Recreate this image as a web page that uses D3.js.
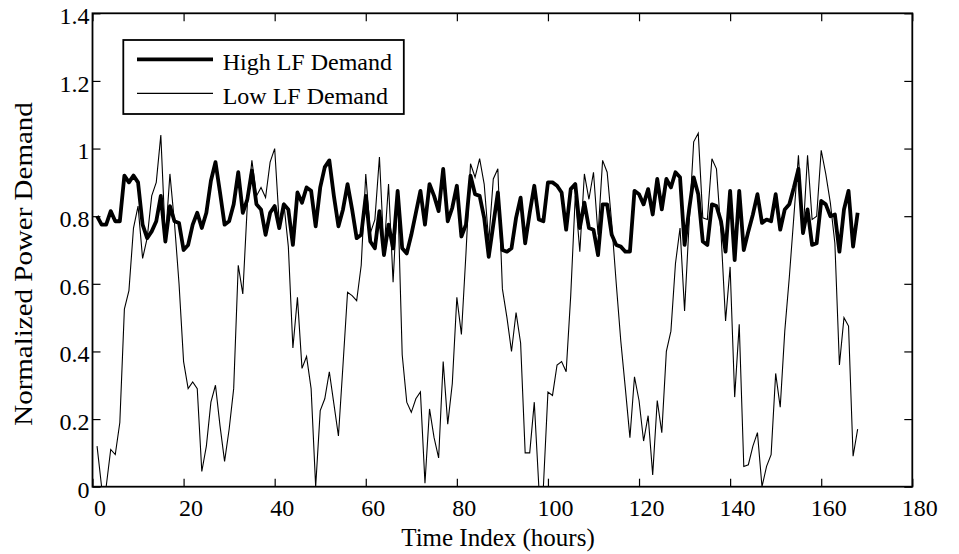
<!DOCTYPE html>
<html>
<head>
<meta charset="utf-8">
<script src="https://cdn.jsdelivr.net/npm/d3@7"></script>
<style>
  body { margin: 0; background: #fff; }
  svg text { font-family: "Liberation Serif", "Times New Roman", serif; fill: #000; }
</style>
</head>
<body>
<svg id="chart" width="959" height="554"></svg>
<script>
'use strict';

// hourly demand, hours 1..168
var hours = d3.range(1, 169)

var highLF = [
  0.80, 0.775, 0.775, 0.815, 0.785, 0.785, 0.92, 0.90, 0.92, 0.90,
  0.775, 0.735, 0.755, 0.785, 0.86, 0.725, 0.83, 0.785, 0.78, 0.70,
  0.715, 0.775, 0.81, 0.765, 0.81, 0.905, 0.96, 0.87, 0.775, 0.785,
  0.835, 0.93, 0.81, 0.85, 0.935, 0.835, 0.82, 0.745, 0.81, 0.83,
  0.765, 0.835, 0.82, 0.715, 0.87, 0.84, 0.885, 0.875, 0.77, 0.885,
  0.945, 0.965, 0.86, 0.77, 0.82, 0.895, 0.82, 0.735, 0.745, 0.86,
  0.725, 0.705, 0.815, 0.685, 0.775, 0.705, 0.875, 0.705, 0.69, 0.745,
  0.81, 0.875, 0.775, 0.895, 0.86, 0.815, 0.94, 0.785, 0.825, 0.89,
  0.74, 0.775, 0.92, 0.865, 0.86, 0.795, 0.68, 0.775, 0.87, 0.70,
  0.695, 0.705, 0.795, 0.855, 0.72, 0.81, 0.89, 0.79, 0.785, 0.90,
  0.90, 0.89, 0.87, 0.76, 0.88, 0.895, 0.765, 0.84, 0.765, 0.76,
  0.685, 0.835, 0.835, 0.745, 0.715, 0.71, 0.695, 0.695, 0.875, 0.865,
  0.835, 0.88, 0.805, 0.91, 0.82, 0.91, 0.885, 0.93, 0.915, 0.715,
  0.82, 0.915, 0.865, 0.725, 0.715, 0.835, 0.83, 0.785, 0.695, 0.875,
  0.67, 0.875, 0.70, 0.755, 0.805, 0.865, 0.78, 0.79, 0.785, 0.865,
  0.76, 0.82, 0.835, 0.885, 0.94, 0.75, 0.82, 0.715, 0.72, 0.845,
  0.835, 0.80, 0.805, 0.695, 0.82, 0.875, 0.71, 0.81
]

var lowLF = [
  0.12, 0.00, 0.00, 0.11, 0.095, 0.19, 0.525, 0.58, 0.765, 0.83,
  0.675, 0.735, 0.86, 0.90, 1.04, 0.73, 0.925, 0.78, 0.60, 0.37,
  0.29, 0.31, 0.29, 0.045, 0.12, 0.25, 0.30, 0.18, 0.075, 0.17,
  0.29, 0.655, 0.57, 0.835, 0.965, 0.86, 0.885, 0.855, 0.96, 1.00,
  0.78, 0.84, 0.71, 0.41, 0.56, 0.35, 0.385, 0.29, 0.00, 0.225,
  0.26, 0.34, 0.245, 0.15, 0.36, 0.575, 0.565, 0.55, 0.655, 0.925,
  0.75, 0.79, 0.975, 0.695, 0.895, 0.605, 0.87, 0.39, 0.25, 0.22,
  0.26, 0.28, 0.01, 0.23, 0.145, 0.085, 0.37, 0.185, 0.305, 0.56,
  0.45, 0.69, 0.955, 0.915, 0.97, 0.895, 0.725, 0.91, 0.94, 0.585,
  0.50, 0.40, 0.515, 0.425, 0.10, 0.10, 0.25, 0.00, 0.00, 0.28,
  0.27, 0.36, 0.37, 0.34, 0.565, 0.86, 0.695, 0.925, 0.85, 0.93,
  0.745, 0.965, 0.93, 0.78, 0.60, 0.43, 0.29, 0.145, 0.325, 0.255,
  0.135, 0.21, 0.035, 0.255, 0.16, 0.40, 0.46, 0.66, 0.765, 0.52,
  0.78, 1.02, 1.045, 0.795, 0.79, 0.97, 0.94, 0.75, 0.49, 0.65,
  0.265, 0.48, 0.06, 0.065, 0.12, 0.16, 0.00, 0.06, 0.095, 0.335,
  0.235, 0.46, 0.62, 0.80, 0.98, 0.745, 0.98, 0.79, 0.80, 0.995,
  0.925, 0.84, 0.72, 0.36, 0.50, 0.475, 0.09, 0.17
]

var xTicks = [0, 20, 40, 60, 80, 100, 120, 140, 160, 180]
,   yTicks = [0, 0.2, 0.4, 0.6, 0.8, 1, 1.2, 1.4]
,   yTickLabels = ['0', '0.2', '0.4', '0.6', '0.8', '1', '1.2', '1.4']
,   seriesNames = ['High LF Demand', 'Low LF Demand']

var plot = { left: 92.5, right: 912.3, top: 13.3, bottom: 486.7 }

var svg = d3.select('#chart')

var x = d3.scaleLinear().domain([0, 180]).range([plot.left, plot.right])
,   y = d3.scaleLinear().domain([0, 1.4]).range([plot.bottom, plot.top])

svg.append('defs').append('clipPath')
    .attr('id', 'plotclip')
  .append('rect')
    .attr('x', plot.left)
    .attr('y', plot.top)
    .attr('width', plot.right - plot.left)
    .attr('height', plot.bottom - plot.top)

// axes, ticks pointing inward like matlab
var bottomAxis = svg.append('g')
  .attr('transform', 'translate(0,' + plot.bottom + ')')
  .call(d3.axisBottom(x).tickValues(xTicks).tickSizeInner(-8).tickSizeOuter(0).tickPadding(12))

bottomAxis.selectAll('text')
  .attr('dx', 7)
  .style('font-size', '24px')

var leftAxis = svg.append('g')
  .attr('transform', 'translate(' + plot.left + ',0)')
  .call(d3.axisLeft(y).tickValues(yTicks).tickSizeInner(-8).tickSizeOuter(0).tickPadding(3)
    .tickFormat((d, i) => yTickLabels[i]))

leftAxis.selectAll('text')
  .attr('dy', '0.43em')
  .style('font-size', '24px')

svg.append('g')
  .attr('transform', 'translate(0,' + plot.top + ')')
  .call(d3.axisTop(x).tickValues(xTicks).tickSizeInner(-8).tickSizeOuter(0).tickFormat(''))

svg.append('g')
  .attr('transform', 'translate(' + plot.right + ',0)')
  .call(d3.axisRight(y).tickValues(yTicks).tickSizeInner(-8).tickSizeOuter(0).tickFormat(''))

svg.selectAll('.domain').remove()
svg.selectAll('.tick line')
  .attr('stroke', '#000')
  .attr('stroke-width', 1.2)

// series
var line = d3.line()
  .x((d, i) => x(hours[i]))
  .y((d) => y(d))

var lines = svg.append('g')
  .attr('clip-path', 'url(#plotclip)')

lines.append('path')
  .datum(lowLF)
  .attr('fill', 'none')
  .attr('stroke', '#000')
  .attr('stroke-width', 1.1)
  .attr('stroke-linejoin', 'miter')
  .attr('d', line)

lines.append('path')
  .datum(highLF)
  .attr('fill', 'none')
  .attr('stroke', '#000')
  .attr('stroke-width', 3.8)
  .attr('stroke-linejoin', 'round')
  .attr('d', line)

// frame
svg.append('rect')
  .attr('x', plot.left)
  .attr('y', plot.top)
  .attr('width', plot.right - plot.left)
  .attr('height', plot.bottom - plot.top)
  .attr('fill', 'none')
  .attr('stroke', '#000')
  .attr('stroke-width', 1.8)

// labels
svg.append('text')
  .attr('x', 498)
  .attr('y', 546)
  .attr('text-anchor', 'middle')
  .style('font-size', '25px')
  .text('Time Index (hours)')

svg.append('text')
  .attr('transform', 'translate(32,264) rotate(-90) scale(1.16,1)')
  .attr('text-anchor', 'middle')
  .style('font-size', '25px')
  .text('Normalized Power Demand')

// legend
var legend = svg.append('g')

legend.append('rect')
  .attr('x', 123.3)
  .attr('y', 40)
  .attr('width', 280.5)
  .attr('height', 74)
  .attr('fill', '#fff')
  .attr('stroke', '#000')
  .attr('stroke-width', 1.8)

var legendRows = legend.selectAll('.legend-row')
  .data(seriesNames)
  .enter().append('g')
  .attr('class', 'legend-row')
  .attr('transform', (d, i) => 'translate(0,' + (59.4 + i * 34) + ')')

legendRows.append('line')
  .attr('x1', 137)
  .attr('x2', 213)
  .attr('stroke', '#000')
  .attr('stroke-width', (d, i) => i === 0 ? 3.8 : 1.1)

legendRows.append('text')
  .attr('x', 222.7)
  .attr('y', 10.5)
  .style('font-size', '24px')
  .text((d) => d)
</script>
</body>
</html>
